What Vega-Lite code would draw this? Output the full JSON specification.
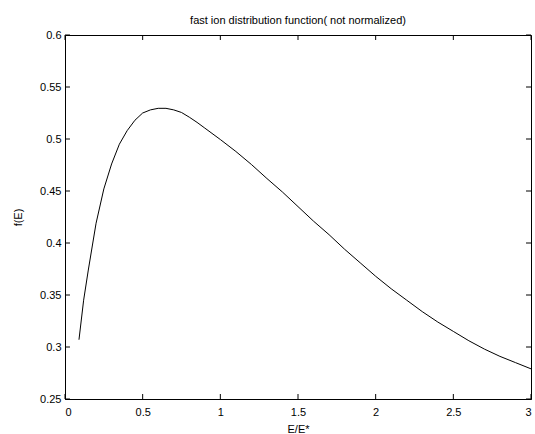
{
  "$schema": "https://vega.github.io/schema/vega-lite/v6.json",
  "width": 466,
  "height": 364,
  "autosize": {"type": "none"},
  "padding": {"left": 65, "top": 35, "right": 4, "bottom": 35},
  "background": "white",
  "config": {
    "font": "Liberation Sans",
    "view": {"stroke": "black", "strokeWidth": 1},
    "axis": {
      "grid": false,
      "domainColor": "black",
      "tickColor": "black",
      "labelColor": "black",
      "titleColor": "black",
      "labelFont": "Liberation Sans",
      "titleFont": "Liberation Sans",
      "labelFontSize": 11,
      "titleFontSize": 11,
      "titleFontWeight": "normal",
      "ticks": false
    }
  },
  "title": {
    "text": "fast ion distribution function( not normalized)",
    "font": "Liberation Sans",
    "fontSize": 11,
    "fontWeight": "normal",
    "color": "black",
    "offset": 3
  },
  "datasets": {
    "xticks": [{"E": 0}, {"E": 0.5}, {"E": 1}, {"E": 1.5}, {"E": 2}, {"E": 2.5}, {"E": 3}],
    "yticks": [{"f": 0.25}, {"f": 0.3}, {"f": 0.35}, {"f": 0.4}, {"f": 0.45}, {"f": 0.5}, {"f": 0.55}, {"f": 0.6}],
    "curve": [
      {"E": 0.09, "f": 0.307},
      {"E": 0.12, "f": 0.345},
      {"E": 0.15, "f": 0.374},
      {"E": 0.2, "f": 0.419},
      {"E": 0.25, "f": 0.452},
      {"E": 0.3, "f": 0.476},
      {"E": 0.35, "f": 0.495},
      {"E": 0.4, "f": 0.508},
      {"E": 0.45, "f": 0.518},
      {"E": 0.5, "f": 0.525},
      {"E": 0.55, "f": 0.528},
      {"E": 0.6, "f": 0.5295},
      {"E": 0.65, "f": 0.5295},
      {"E": 0.7, "f": 0.528},
      {"E": 0.75, "f": 0.5255},
      {"E": 0.8, "f": 0.521},
      {"E": 0.85, "f": 0.516},
      {"E": 0.9, "f": 0.5105},
      {"E": 1.0, "f": 0.4995},
      {"E": 1.1, "f": 0.488},
      {"E": 1.2, "f": 0.4755},
      {"E": 1.3, "f": 0.462},
      {"E": 1.4, "f": 0.449},
      {"E": 1.5, "f": 0.435},
      {"E": 1.6, "f": 0.421},
      {"E": 1.7, "f": 0.408},
      {"E": 1.8, "f": 0.394},
      {"E": 1.9, "f": 0.381},
      {"E": 2.0, "f": 0.368},
      {"E": 2.1, "f": 0.356},
      {"E": 2.2, "f": 0.345},
      {"E": 2.3, "f": 0.334},
      {"E": 2.4, "f": 0.324},
      {"E": 2.5, "f": 0.315},
      {"E": 2.6, "f": 0.306},
      {"E": 2.7, "f": 0.298},
      {"E": 2.8, "f": 0.291},
      {"E": 2.9, "f": 0.285},
      {"E": 3.0, "f": 0.279}
    ]
  },
  "layer": [
    {
      "data": {"name": "curve"},
      "mark": {"type": "line", "color": "black", "strokeWidth": 1},
      "encoding": {
        "x": {
          "field": "E", "type": "quantitative",
          "scale": {"domain": [0, 3], "nice": false, "zero": false},
          "axis": {"values": [0, 0.5, 1, 1.5, 2, 2.5, 3], "format": ".1~f", "title": "E/E*", "labelPadding": 7, "titlePadding": 6}
        },
        "y": {
          "field": "f", "type": "quantitative",
          "scale": {"domain": [0.25, 0.6], "nice": false, "zero": false},
          "axis": {"values": [0.25, 0.3, 0.35, 0.4, 0.45, 0.5, 0.55, 0.6], "format": ".2~f", "title": "f(E)", "labelPadding": 4, "titlePadding": 16}
        }
      }
    },
    {
      "data": {"name": "xticks"},
      "mark": {"type": "rule", "color": "black", "strokeWidth": 1},
      "encoding": {
        "x": {"field": "E", "type": "quantitative"},
        "y": {"datum": 0.25},
        "y2": {"datum": 0.2548}
      }
    },
    {
      "data": {"name": "xticks"},
      "mark": {"type": "rule", "color": "black", "strokeWidth": 1},
      "encoding": {
        "x": {"field": "E", "type": "quantitative"},
        "y": {"datum": 0.6},
        "y2": {"datum": 0.5952}
      }
    },
    {
      "data": {"name": "yticks"},
      "mark": {"type": "rule", "color": "black", "strokeWidth": 1},
      "encoding": {
        "y": {"field": "f", "type": "quantitative"},
        "x": {"datum": 0},
        "x2": {"datum": 0.032}
      }
    },
    {
      "data": {"name": "yticks"},
      "mark": {"type": "rule", "color": "black", "strokeWidth": 1},
      "encoding": {
        "y": {"field": "f", "type": "quantitative"},
        "x": {"datum": 3},
        "x2": {"datum": 2.968}
      }
    }
  ]
}
